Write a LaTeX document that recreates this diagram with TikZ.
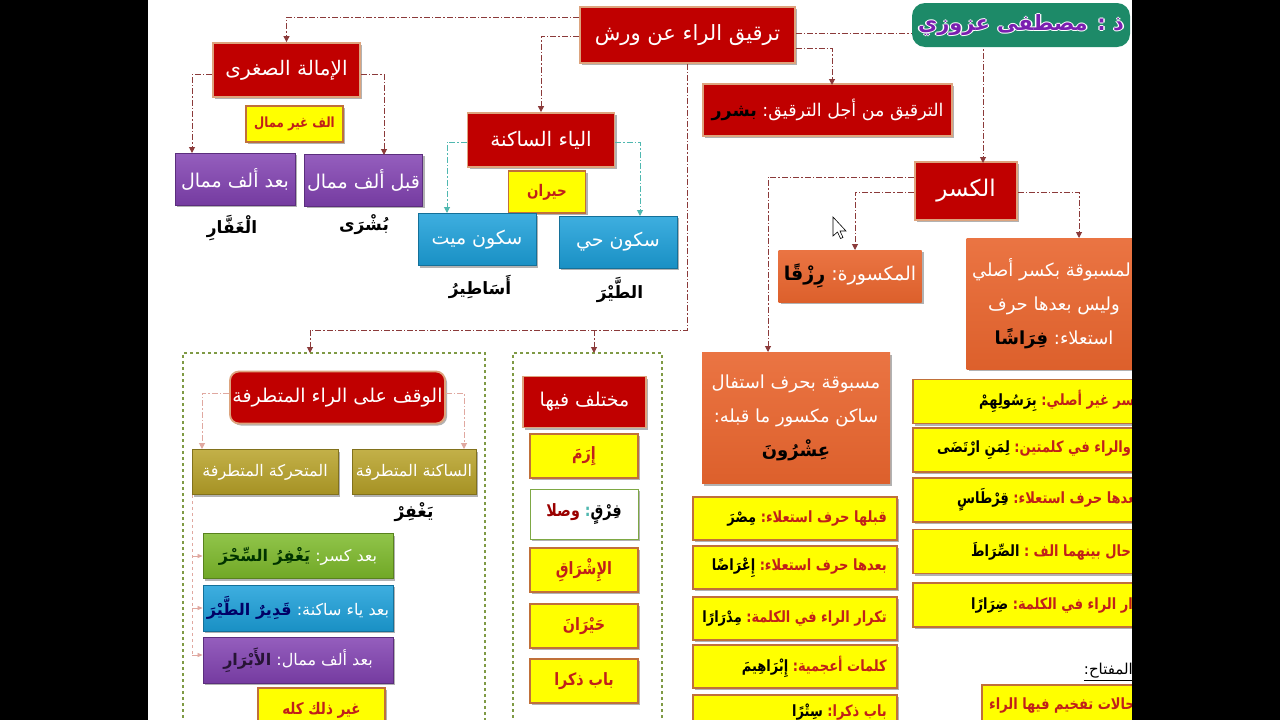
\documentclass[tikz,border=0pt]{standalone}
\usepackage{fontspec}
\usetikzlibrary{arrows.meta,shadows}
\TeXXeTstate=1
\newfontfamily\arabicfont[Script=Arabic]{DejaVu Sans}
\newfontfamily\arabicnarrow[Script=Arabic,FakeStretch=0.84]{DejaVu Sans}
\newcommand\myR[1]{\beginR #1\endR}
\newcommand\fs[2]{\fontsize{#1}{#2}\selectfont}
% label (right, RTL) followed by a coloured example word on its left
\newcommand\mix[3]{{\color{#3}\bfseries\myR{#2}}\ \myR{#1}}
\newcommand\halo[1]{\leavevmode\rlap{\kern1.4pt\color{white}#1}\rlap{\kern-1.4pt\color{white}#1}\rlap{\raisebox{1.4pt}{\color{white}#1}}\rlap{\raisebox{-1.4pt}{\color{white}#1}}#1}
\definecolor{cRed}{HTML}{C00000}
\definecolor{cRedB}{HTML}{DDA47E}
\definecolor{cYel}{HTML}{FFFF00}
\definecolor{cYelB}{HTML}{C0703A}
\definecolor{cYelT}{HTML}{C0201A}
\definecolor{cPur}{HTML}{8242B2}
\definecolor{cBlu}{HTML}{1CA0DA}
\definecolor{cOra}{HTML}{E8652E}
\definecolor{cOli}{HTML}{B8A228}
\definecolor{cGrn}{HTML}{7DBA2A}
\definecolor{cCon}{HTML}{8B3A3A}
\definecolor{cTeal}{HTML}{4FB8B0}
\definecolor{cPink}{HTML}{E0A8A0}
\definecolor{cCont}{HTML}{7F9A45}
\definecolor{cBadge}{HTML}{1D8A68}
\definecolor{cBadgeT}{HTML}{7A1FB0}
\tikzset{
  base/.style={inner sep=1pt, align=center, font=\arabicfont\fs{19}{24}},
  shad/.style={general shadow={fill=black!30, shadow xshift=2pt, shadow yshift=-2pt}},
  redbox/.style={base, shad, fill=cRed, draw=cRedB, line width=1.8pt, text=white},
  yelbox/.style={base, shad, fill=cYel, draw=cYelB, line width=1.2pt, text=cYelT, font=\arabicnarrow\bfseries\fs{15}{20}},
  yeltxt/.style={base, text=cYelT, font=\arabicnarrow\bfseries\fs{15.5}{18}},
  purbox/.style={base, shad, top color=cPur!85!white, bottom color=cPur!90!black, draw=cPur!70!black, line width=0.8pt, text=white},
  blubox/.style={base, shad, top color=cBlu!85!white, bottom color=cBlu!90!black, draw=cBlu!70!black, line width=0.8pt, text=white},
  orabox/.style={base, shad, top color=cOra!90!white, bottom color=cOra!95!black, draw=none, text=white},
  olibox/.style={base, shad, top color=cOli!85!white, bottom color=cOli!90!black, draw=cOli!70!black, line width=0.8pt, text=white, font=\arabicfont\fs{16}{20}},
  grnbox/.style={base, shad, top color=cGrn!85!white, bottom color=cGrn!90!black, draw=cGrn!70!black, line width=0.8pt, text=white, font=\arabicfont\fs{16}{20}},
  word/.style={base, text=black, font=\arabicfont\bfseries\fs{17}{20}},
  contbox/.style={draw=cCont, line width=1.2pt, dashed, inner sep=0pt},
  conn/.style={draw=cCon, line width=1pt, dash pattern=on 6pt off 2pt on 1.5pt off 2pt, -{Triangle[length=6pt,width=6pt]}},
  connT/.style={conn, draw=cTeal},
  connP/.style={conn, draw=cPink},
}
\begin{document}
\begin{tikzpicture}[x=1pt,y=-1pt]
\useasboundingbox (0,0) rectangle (1280,720);
\fill[white] (148,0) rectangle (1132,720);
% helper coordinates
\coordinate (y15) at (0,17);
\coordinate (y35) at (0,36);
\coordinate (y33) at (0,33);
\coordinate (y48) at (0,48);
\coordinate (y330) at (0,330);
\coordinate (y177) at (0,177);
\coordinate (y192) at (0,192);
\coordinate (y74) at (0,74);
\coordinate (y142) at (0,142);
\coordinate (y393) at (0,393);

% containers
\node[contbox, minimum width=302, minimum height=390] (cL) at (334,548) {};
\node[contbox, minimum width=149, minimum height=390] (cM) at (587.5,548) {};

% title and top boxes
\node[redbox, minimum width=215, minimum height=56, font=\arabicfont\fs{21}{26}] (t) at (687.5,35) {\myR{ترقيق الراء عن ورش}};
\node[redbox, minimum width=147, minimum height=54, font=\arabicfont\fs{20}{24}] (am) at (286.5,70) {\myR{الإمالة الصغرى}};
\node[yelbox, minimum width=97, minimum height=36, font=\arabicnarrow\bfseries\fs{14}{16}] (alf) at (294.5,124) {\myR{الف غير ممال}};
\node[purbox, minimum width=120, minimum height=52] (bam) at (235,179) {\myR{بعد ألف ممال}};
\node[purbox, minimum width=118, minimum height=52] (qam) at (363.5,180) {\myR{قبل ألف ممال}};
\node[word] (w1) at (232,228) {\myR{الْغَفَّارِ}};
\node[word] (w2) at (364,225) {\myR{بُشْرَى}};

\node[redbox, minimum width=147, minimum height=54, font=\arabicfont\fs{20}{24}] (ya) at (541,140) {\myR{الياء الساكنة}};
\node[yelbox, minimum width=77, minimum height=42, font=\arabicnarrow\bfseries\fs{16}{20}] (hy) at (547,192) {\myR{حيران}};
\node[blubox, minimum width=118, minimum height=52] (sm) at (477,239.5) {\myR{سكون ميت}};
\node[blubox, minimum width=118, minimum height=52] (sh) at (618,242) {\myR{سكون حي}};
\node[word] (w3) at (480,287) {\myR{أَسَاطِيرُ}};
\node[word] (w4) at (620,290) {\myR{الطَّيْرَ}};

\node[redbox, minimum width=249, minimum height=52, font=\arabicfont\fs{17.5}{22}] (tq) at (827.5,110) {\mix{الترقيق من أجل الترقيق:}{بشرر}{black}};
\node[redbox, minimum width=102, minimum height=58, font=\arabicfont\fs{23}{26}] (ks) at (966,191) {\myR{الكسر}};
\node[orabox, minimum width=143, minimum height=52] (mk) at (850,276) {\mix{المكسورة:}{رِزْقًا}{black}};
\node[orabox, minimum width=175, minimum height=131, font=\arabicfont\fs{18}{34}] (msa) at (1054,303.5) {\myR{المسبوقة بكسر أصلي}\\\myR{وليس بعدها حرف}\\\mix{استعلاء:}{فِرَاشًا}{black}};
\node[orabox, minimum width=188, minimum height=131, font=\arabicfont\fs{18}{34}] (msb) at (796,418) {\myR{مسبوقة بحرف استفال}\\\myR{ساكن مكسور ما قبله:}\\{\color{black}\bfseries\myR{عِشْرُونَ}}};

% middle yellow list
\foreach \yy/\nm in {518.5/m1,567.5/m2,618.5/m3,666.5/m4,716.5/m5}{
  \node[yelbox, minimum width=204, minimum height=43] (\nm) at (795,\yy) {};
}
\node[yeltxt, anchor=east] (m1t) at (888,518.5) {\mix{قبلها حرف استعلاء:}{مِصْرَ}{black}};
\node[yeltxt, anchor=east] (m2t) at (888,567.5) {\mix{بعدها حرف استعلاء:}{إِعْرَاضًا}{black}};
\node[yeltxt, anchor=east] (m3t) at (888,618.5) {\mix{تكرار الراء في الكلمة:}{مِدْرَارًا}{black}};
\node[yeltxt, anchor=east] (m4t) at (888,666.5) {\mix{كلمات أعجمية:}{إِبْرَاهِيمَ}{black}};
\node[yeltxt, anchor=east] (m5t) at (888,712) {\mix{باب ذكرا:}{سِتْرًا}{black}};

% right yellow list
\foreach \yy/\nm in {401.5/r1,450/r2,500/r3,551.5/r4,605/r5}{
  \node[yelbox, minimum width=250, minimum height=44] (\nm) at (1038,\yy) {};
}
\node[yeltxt, anchor=west] (r1t) at (978,401.5) {\mix{المسبوقة بكسر غير أصلي:}{بِرَسُولِهِمْ}{black}};
\node[yeltxt, anchor=west] (r2t) at (936,450) {\mix{المسبوقة بكسر والراء في كلمتين:}{لِمَنِ ارْتَضَى}{black}};
\node[yeltxt, anchor=west] (r3t) at (956,500) {\mix{بعدها حرف استعلاء:}{قِرْطَاسٍ}{black}};
\node[yeltxt, anchor=west] (r4t) at (970,551.5) {\mix{ولو حال بينهما الف :}{الصِّرَاطَ}{black}};
\node[yeltxt, anchor=west] (r5t) at (970,605) {\mix{تكرار الراء في الكلمة:}{ضِرَارًا}{black}};

% key
\node[word, anchor=east, font=\arabicfont\fs{15}{18}] (key) at (1134,672) {\myR{\underline{المفتاح:}}};
\node[yelbox, minimum width=160, minimum height=40, font=\arabicnarrow\bfseries\fs{15.5}{20}] (kb) at (1062,705) {\myR{حالات تفخيم فيها الراء}};

% left container content
\node[redbox, rounded corners=9pt, minimum width=215, minimum height=52] (wq) at (337.5,397.5) {\myR{الوقف على الراء المتطرفة}};
\node[olibox, minimum width=146, minimum height=45] (mt) at (265,472) {\myR{المتحركة المتطرفة}};
\node[olibox, minimum width=124, minimum height=45] (sk) at (414,472) {\myR{الساكنة المتطرفة}};
\node[word] (w5) at (414,512) {\myR{يَغْفِرْ}};
\node[grnbox, minimum width=190, minimum height=45] (g1) at (298,556) {\mix{بعد كسر:}{يَغْفِرُ السِّحْرَ}{black!80!green}};
\node[blubox, minimum width=190, minimum height=46, font=\arabicfont\fs{16}{20}] (g2) at (298,608) {\mix{بعد ياء ساكنة:}{قَدِيرٌ الطَّيْرَ}{blue!40!black}};
\node[purbox, minimum width=190, minimum height=46, font=\arabicfont\fs{16}{20}] (g3) at (298,660) {\mix{بعد ألف ممال:}{الأَبْرَارِ}{cPur!30!black}};
\node[yelbox, minimum width=127, minimum height=44, font=\arabicnarrow\bfseries\fs{16}{20}] (g4) at (321.5,710) {\myR{غير ذلك كله}};

% middle container content
\node[redbox, minimum width=123, minimum height=51] (mf) at (584.5,402) {\myR{مختلف فيها}};
\node[yelbox, minimum width=108, minimum height=44, font=\arabicnarrow\bfseries\fs{17}{20}] (i1) at (584,456) {\myR{إِرَمَ}};
\node[base, shad, fill=white, draw=cGrn!70!gray, line width=0.8pt, minimum width=108, minimum height=50, text=black, font=\arabicnarrow\bfseries\fs{17}{20}] (i2) at (584,514) {{\color{cRed!80!black}\myR{وصلا}}\ {\color{cTeal}:}\myR{فِرْقٍ}};
\node[yelbox, minimum width=108, minimum height=44, font=\arabicnarrow\bfseries\fs{17}{20}] (i3) at (584,570) {\myR{الإِشْرَاقِ}};
\node[yelbox, minimum width=108, minimum height=44, font=\arabicnarrow\bfseries\fs{17}{20}] (i4) at (584,626) {\myR{حَيْرَانَ}};
\node[yelbox, minimum width=108, minimum height=44, font=\arabicnarrow\bfseries\fs{17}{20}] (i5) at (584,681) {\myR{باب ذكرا}};

% connector endpoints
\coordinate (aL) at (310,353);
\coordinate (aM) at (594,353);
\coordinate (aKs) at (983,163);
\coordinate (aTq) at (832,85);
\coordinate (aMsb) at (768,352);
\coordinate (aMk) at (855,250);
\coordinate (aMsa) at (1079,238);
\coordinate (aBam) at (192,153);
\coordinate (aQam) at (384,155);
\coordinate (aSm) at (447,213);
\coordinate (aSh) at (640,216);
\coordinate (aMt) at (202,449);
\coordinate (aSk) at (464,449);
\coordinate (vTop) at (192,495);
\coordinate (v1) at (192,556);
\coordinate (v2) at (192,608);
\coordinate (v3) at (192,655);

% connectors
\draw[conn] (t.west |- y15) -| (am.north);
\draw[conn] (t.west |- y35) -| (ya.north);
\draw[conn] (t.south) |- (aL |- y330) -- (aL);
\draw[conn] (aM |- y330) -- (aM);
\draw[conn] (t.east |- y33) -| (aKs);
\draw[conn] (t.east |- y48) -| (aTq);
\draw[conn] (ks.west |- y177) -| (aMsb);
\draw[conn] (ks.west |- y192) -| (aMk);
\draw[conn] (ks.east |- y192) -| (aMsa);
\draw[conn] (am.west |- y74) -| (aBam);
\draw[conn] (am.east |- y74) -| (aQam);
\draw[connT] (ya.west |- y142) -| (aSm);
\draw[connT] (ya.east |- y142) -| (aSh);
\draw[connP] (wq.west |- y393) -| (aMt);
\draw[connP] (wq.east |- y393) -| (aSk);
\draw[cPink, line width=0.7pt, dashed] (vTop) -- (v3);
\draw[cPink, line width=0.7pt, -{Triangle[length=5pt,width=4pt]}] (v1) -- (g1.west);
\draw[cPink, line width=0.7pt, -{Triangle[length=5pt,width=4pt]}] (v2) -- (g2.west);
\draw[cPink, line width=0.7pt, -{Triangle[length=5pt,width=4pt]}] (v3) -- (g3.west |- v3);

% author badge
\node[fill=cBadge, rounded corners=13pt, minimum width=218, minimum height=44, inner sep=0pt, text=cBadgeT, font=\arabicfont\bfseries\fs{21}{24}] (badge) at (1021,25) {\halo{\myR{ذ : مصطفى عزوزي}}};

% mouse cursor
\filldraw[fill=white, draw=black, line width=0.6pt] (833,217) -- (833,236) -- (837.5,232) -- (840.5,238.5) -- (843,237.5) -- (840,231) -- (846,231) -- cycle;

% black side bars
\fill[black] (0,0) rectangle (148,720);
\fill[black] (1132,0) rectangle (1280,720);
\end{tikzpicture}
\end{document}
